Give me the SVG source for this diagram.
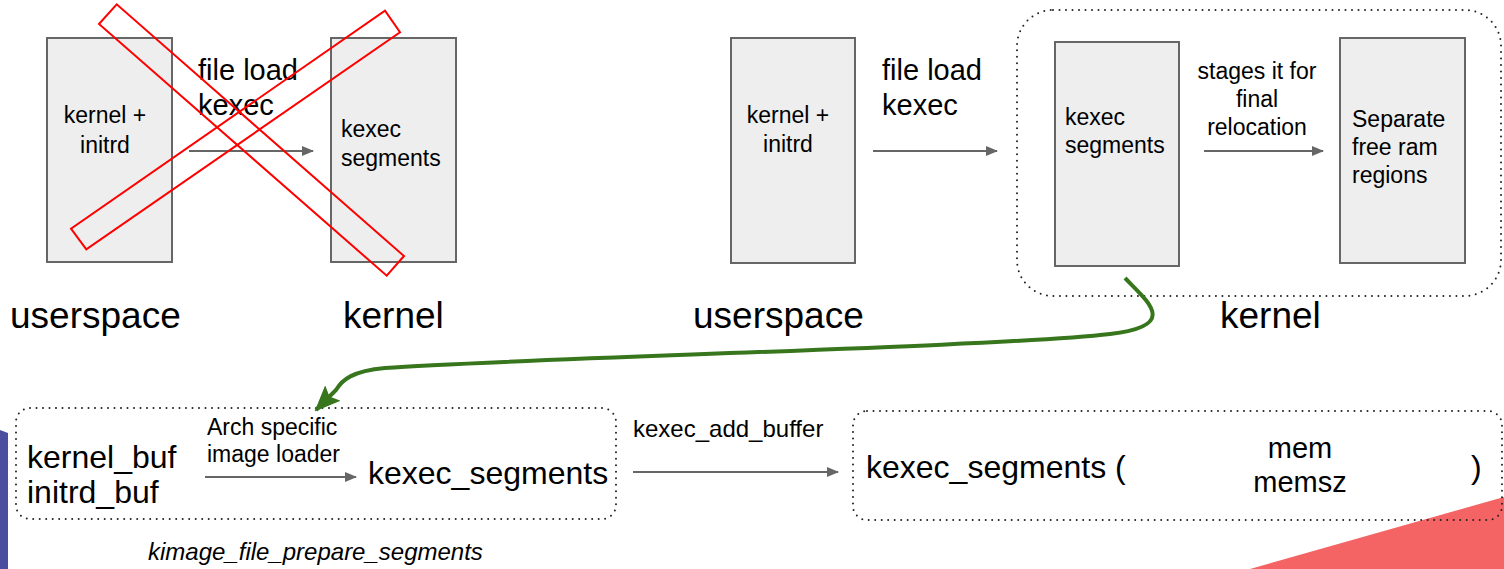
<svg xmlns="http://www.w3.org/2000/svg" width="1504" height="569" viewBox="0 0 1504 569">
  <defs>
    <marker id="arrow" viewBox="0 0 12 10" refX="11" refY="5" markerWidth="12" markerHeight="10" markerUnits="userSpaceOnUse" orient="auto">
      <path d="M0,0 L12,5 L0,10 z" fill="#666666"/>
    </marker>
    <marker id="greenHead" viewBox="0 0 26 22" refX="24" refY="11" markerWidth="26" markerHeight="22" markerUnits="userSpaceOnUse" orient="auto">
      <path d="M0,0 L26,11 L0,22 L5,11 z" fill="#38761d"/>
    </marker>
    <style>
      text { font-family: "Liberation Sans", Arial, sans-serif; fill: #000000; }
      .box { fill: #eeeeee; stroke: #666666; stroke-width: 2; }
      .conn { stroke: #666666; stroke-width: 2; fill: none; marker-end: url(#arrow); }
      .dotted { fill: none; stroke: #222222; stroke-width: 2; stroke-dasharray: 0 6.5; stroke-linecap: round; }
      .cross { fill: none; stroke: #ff0000; stroke-width: 2; }
      .sm { font-size: 23px; }
      .sm2 { font-size: 24px; }
      .md { font-size: 29px; }
      .lg { font-size: 32px; }
      .xl { font-size: 37px; }
      .mid { text-anchor: middle; }
    </style>
  </defs>

  <!-- slide decoration -->
  <g id="decor">
    <polygon points="0,430 8,433 8,569 0,569" fill="#4b4e9f"/>
    <polygon points="1250,569 1504,497 1504,569" fill="#f46464"/>
  </g>

  <!-- left panel: direct load (crossed out) -->
  <g id="old-kernel-initrd">
    <rect class="box" x="47" y="38" width="125" height="224"/>
    <text class="sm mid" x="105" y="123">kernel +</text>
    <text class="sm mid" x="105" y="153">initrd</text>
  </g>
  <g id="old-kexec-segments">
    <rect class="box" x="331" y="38" width="125" height="224"/>
    <text class="sm" x="341" y="137">kexec</text>
    <text class="sm" x="341" y="166">segments</text>
  </g>
  <g id="old-labels">
    <text class="md" x="198" y="80">file load</text>
    <text class="md" x="198" y="115">kexec</text>
    <text class="xl" x="10" y="328">userspace</text>
    <text class="xl" x="343" y="328">kernel</text>
  </g>

  <!-- right panel: staged load -->
  <g id="kernel-region">
    <rect class="dotted" x="1017" y="10" width="484" height="286" rx="36"/>
  </g>
  <g id="new-kernel-initrd">
    <rect class="box" x="731" y="38" width="124" height="225"/>
    <text class="sm mid" x="788" y="123">kernel +</text>
    <text class="sm mid" x="788" y="152">initrd</text>
  </g>
  <g id="new-kexec-segments">
    <rect class="box" x="1055" y="42" width="124" height="224"/>
    <text class="sm" x="1065" y="125">kexec</text>
    <text class="sm" x="1065" y="153">segments</text>
  </g>
  <g id="free-ram">
    <rect class="box" x="1340" y="38" width="125" height="225"/>
    <text class="sm" x="1352" y="127">Separate</text>
    <text class="sm" x="1352" y="155">free ram</text>
    <text class="sm" x="1352" y="183">regions</text>
  </g>
  <g id="new-labels">
    <text class="md" x="882" y="80">file load</text>
    <text class="md" x="882" y="115">kexec</text>
    <text class="sm mid" x="1257" y="79">stages it for</text>
    <text class="sm mid" x="1257" y="107">final</text>
    <text class="sm mid" x="1257" y="135">relocation</text>
    <text class="xl" x="693" y="328">userspace</text>
    <text class="xl" x="1220" y="328">kernel</text>
  </g>

  <!-- bottom: segment preparation -->
  <g id="prepare-segments">
    <rect class="dotted" x="16" y="408" width="600" height="111" rx="14"/>
    <text class="lg" x="27" y="468">kernel_buf</text>
    <text class="lg" x="27" y="503">initrd_buf</text>
    <text class="sm" x="207" y="435">Arch specific</text>
    <text class="sm" x="207" y="462">image loader</text>
    <text class="lg" x="368" y="484">kexec_segments</text>
  </g>
  <g id="prepare-caption">
    <text class="sm2" x="148" y="560" font-style="italic">kimage_file_prepare_segments</text>
  </g>
  <g id="add-buffer-label">
    <text class="sm2" x="633" y="437">kexec_add_buffer</text>
  </g>
  <g id="segments-result">
    <rect class="dotted" x="853" y="411" width="649" height="109" rx="14"/>
    <text class="lg" x="866" y="478">kexec_segments (</text>
    <text class="md mid" x="1300" y="458">mem</text>
    <text class="md mid" x="1300" y="492">memsz</text>
    <text class="lg" x="1471" y="478">)</text>
  </g>

  <!-- connectors -->
  <g id="connectors">
    <line class="conn" x1="189" y1="151" x2="313" y2="151"/>
    <line class="conn" x1="873" y1="151" x2="997" y2="151"/>
    <line class="conn" x1="1204" y1="151" x2="1323" y2="151"/>
    <line class="conn" x1="205" y1="477" x2="356" y2="477"/>
    <line class="conn" x1="633" y1="472" x2="838" y2="472"/>
    <path d="M1125,278 C1148,302 1180,326 1110,334 C1000,347 520,358 385,368 C352,371 342,380 336,390 L316,410" fill="none" stroke="#38761d" stroke-width="4" marker-end="url(#greenHead)"/>
  </g>

  <!-- cross-out over the left panel -->
  <g id="cross-out">
    <polygon class="cross" points="99,24 116.7,4.3 404,256 386.7,275.7"/>
    <polygon class="cross" points="71,228.7 86.3,249.3 400,32.3 385,10.7"/>
  </g>
</svg>
